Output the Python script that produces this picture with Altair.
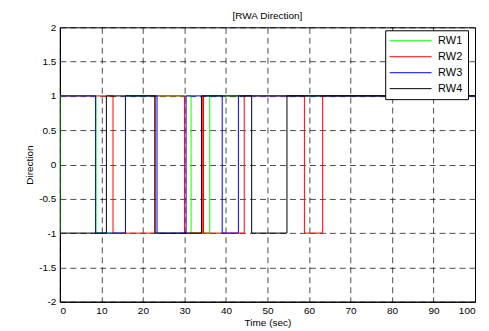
import altair as alt
import pandas as pd

series = ["RW1", "RW2", "RW3", "RW4"]
colors = ["#00ff00", "#ff0000", "#0000ff", "#000000"]

# initial direction and switch times (sec) of each wheel
rw1_start = -1
rw1_switch = [0, 8.7, 15.8, 31.6, 36.1]
rw2_start = 1
rw2_switch = [12.8, 22.9, 30.0, 34.3, 34.6, 44.4, 58.9, 63.3]
rw3_start = 1
rw3_switch = [8.6, 15.8, 23.4, 30.4, 39.1, 43.0]
rw4_start = -1
rw4_switch = [11.2, 22.9, 34.1, 46.2, 54.7]
t_end = 100

x_ticks = [0, 10, 20, 30, 40, 50, 60, 70, 80, 90, 100]
y_ticks = [-2, -1.5, -1, -0.5, 0, 0.5, 1, 1.5, 2]

rows = []
for name, start, sw in zip(series,
                           [rw1_start, rw2_start, rw3_start, rw4_start],
                           [rw1_switch, rw2_switch, rw3_switch, rw4_switch]):
    cur = start
    i = 0
    rows.append({"rw": name, "t": 0, "v": cur, "i": i}); i += 1
    for s in sw:
        rows.append({"rw": name, "t": s, "v": cur, "i": i}); i += 1
        cur = -cur
        rows.append({"rw": name, "t": s, "v": cur, "i": i}); i += 1
    rows.append({"rw": name, "t": t_end, "v": cur, "i": i})
df = pd.DataFrame(rows)

font = "Liberation Sans"
pad = "\u00a0" * 8

chart = alt.Chart(df).mark_line(strokeWidth=1, clip=True).encode(
    x=alt.X("t:Q", scale=alt.Scale(domain=[0, 100], nice=False),
            axis=alt.Axis(values=x_ticks, title="Time (sec)", format="d")),
    y=alt.Y("v:Q", scale=alt.Scale(domain=[-2, 2], nice=False),
            axis=alt.Axis(values=y_ticks, title="Direction",
                          labelExpr="'' + datum.value")),
    color=alt.Color("rw:N", scale=alt.Scale(domain=series, range=colors),
                    legend=alt.Legend(title=None, orient="none",
                                      legendX=326, legendY=3,
                                      fillColor="white", strokeColor="black",
                                      padding=5, symbolType="M-4.2,0H4.2",
                                      symbolSize=100, symbolStrokeWidth=1,
                                      symbolOffset=15,
                                      labelFontSize=11, labelFont=font,
                                      labelExpr="datum.label + '" + pad + "'",
                                      rowPadding=4, labelOffset=22)),
    order="i:Q",
).properties(
    width=416, height=275,
    title=alt.TitleParams("[RWA Direction]", fontSize=10, font=font,
                          fontWeight="normal", offset=1),
    autosize=alt.AutoSizeParams(type="none"),
    padding={"left": 52, "top": 19, "right": 6, "bottom": 28},
).configure_view(
    stroke="black", strokeWidth=1
).configure_axis(
    grid=True, gridColor="#000000", gridOpacity=0.7, gridDash=[6, 4],
    gridWidth=1, domainColor="black", domainWidth=1, ticks=False,
    labelFont=font, labelFontSize=10, labelColor="black",
    titleFont=font, titleFontSize=10, titleFontWeight="normal",
    titleColor="black", labelPadding=4
).configure_axisX(titlePadding=2).configure_axisY(titlePadding=4)

chart.save("out.html", embed_options={"renderer": "svg", "actions": False})
